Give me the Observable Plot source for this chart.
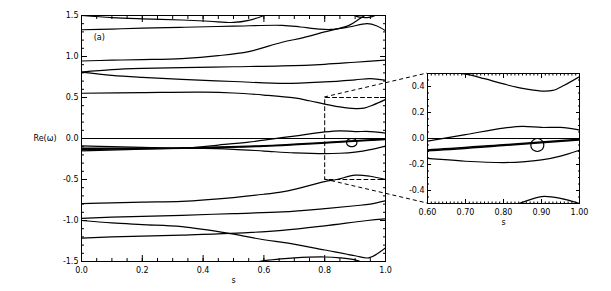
<!DOCTYPE html>
<html><head><meta charset="utf-8">
<script src="https://cdn.jsdelivr.net/npm/d3@7"></script>
<script src="https://cdn.jsdelivr.net/npm/@observablehq/plot@0.6"></script>
<style>
html,body{margin:0;padding:0;background:#fff;}
#wrap{position:relative;width:611px;height:291px;font-family:"DejaVu Sans",sans-serif;}
#wrap svg{position:absolute;overflow:visible;}
</style></head><body><div id="wrap"></div>
<script>
// ---- data: eigenfrequency branches Re(omega) vs s ----
const curveA  = [[0,1.50],[0.1,1.475],[0.2,1.46],[0.33,1.445],[0.42,1.43],[0.5,1.415],[0.55,1.44],[0.6,1.50],[0.62,1.53]];
const curveA2 = [[0.89,1.52],[0.905,1.49],[0.925,1.476],[0.945,1.477],[0.96,1.49],[0.972,1.52]];
const curveB  = [[0,1.326],[0.1,1.335],[0.2,1.345],[0.34,1.357],[0.5,1.37],[0.66,1.38],[0.72,1.36],[0.78,1.335],[0.82,1.33],[0.88,1.36],[0.94,1.40],[0.97,1.375],[1.0,1.315]];
const curveC  = [[0,0.945],[0.1,0.955],[0.2,0.962],[0.33,0.975],[0.45,1.01],[0.55,1.06],[0.66,1.174],[0.73,1.23],[0.8,1.30],[0.88,1.38],[0.915,1.46],[0.94,1.52]];
const curveD1 = [[0,0.81],[0.1,0.84],[0.2,0.855],[0.33,0.865],[0.5,0.875],[0.66,0.885],[0.8,0.905],[0.9,0.93],[1.0,0.955]];
const curveD2 = [[0,0.81],[0.1,0.77],[0.2,0.745],[0.33,0.72],[0.5,0.695],[0.67,0.672],[0.8,0.69],[0.9,0.715],[0.95,0.73],[1.0,0.71]];
const curveE  = [[0,0.552],[0.2,0.56],[0.4,0.565],[0.5,0.555],[0.6,0.53],[0.7,0.495],[0.75,0.46],[0.8,0.42],[0.85,0.385],[0.9,0.365],[0.93,0.37],[0.96,0.41],[1.0,0.475]];
const curveF  = [[0,0],[1,0]];
const curveG  = [[0,-0.09],[0.1,-0.10],[0.2,-0.108],[0.34,-0.115],[0.45,-0.08],[0.55,-0.045],[0.6,-0.02],[0.7,0.03],[0.8,0.08],[0.85,0.093],[0.9,0.085],[0.95,0.085],[1.0,0.065]];
const curveT1 = [[0,-0.12],[0.2,-0.118],[0.34,-0.115],[0.6,-0.088],[0.8,-0.048],[1.0,-0.006]];
const curveT2 = [[0,-0.135],[0.2,-0.125],[0.34,-0.118],[0.6,-0.094],[0.8,-0.054],[1.0,-0.012]];
const curveN  = [[0,-0.15],[0.15,-0.135],[0.3,-0.122],[0.4,-0.12],[0.5,-0.132],[0.6,-0.153],[0.7,-0.175],[0.8,-0.185],[0.85,-0.18],[0.9,-0.165],[0.95,-0.135],[1.0,-0.09]];
const loopP   = [[0.906,-0.05],[0.904,-0.025],[0.8975,-0.007],[0.889,0.0],[0.8805,-0.007],[0.874,-0.025],[0.872,-0.05],[0.874,-0.075],[0.8805,-0.093],[0.889,-0.1],[0.8975,-0.093],[0.904,-0.075]];
const curveI  = [[0,-0.795],[0.1,-0.785],[0.2,-0.775],[0.33,-0.766],[0.5,-0.72],[0.6,-0.68],[0.66,-0.65],[0.7,-0.62],[0.8,-0.525],[0.84,-0.50],[0.9,-0.447],[0.95,-0.46],[1.0,-0.50]];
const curveJ  = [[0,-0.975],[0.1,-0.96],[0.2,-0.95],[0.33,-0.937],[0.5,-0.915],[0.66,-0.895],[0.8,-0.855],[0.9,-0.82],[0.95,-0.80],[1.0,-0.76]];
const curveK  = [[0,-1.0],[0.1,-1.03],[0.2,-1.05],[0.33,-1.075],[0.49,-1.16],[0.6,-1.235],[0.68,-1.275],[0.8,-1.36],[0.9,-1.43],[0.945,-1.455],[1.0,-1.335]];
const curveL  = [[0,-1.215],[0.1,-1.20],[0.2,-1.19],[0.33,-1.178],[0.49,-1.158],[0.66,-1.12],[0.8,-1.065],[0.94,-1.0],[1.0,-0.98]];
const curveM  = [[0.56,-1.52],[0.6,-1.49],[0.65,-1.47],[0.7,-1.455],[0.8,-1.445],[0.85,-1.455],[0.9,-1.48],[0.93,-1.52]];

// axes / domains / ticks
const mainXDomain = [0, 1];
const mainYDomain = [-1.5, 1.5];
const insetXDomain = [0.6, 1.0];
const insetYDomain = [-0.5, 0.5];
const boxS = [0.8, 1.0];
const boxW = [-0.5, 0.5];
const mainXMajor = [0, 0.2, 0.4, 0.6, 0.8, 1.0];
const mainXMinor = d3.range(0, 1.0001, 0.05);
const mainYMajor = [-1.5, -1.0, -0.5, 0, 0.5, 1.0, 1.5];
const mainYMinor = d3.range(-1.5, 1.5001, 0.1);
const insetXMajor = [0.6, 0.7, 0.8, 0.9, 1.0];
const insetXMinor = d3.range(0.6, 1.0001, 0.01);
const insetYMajor = [-0.4, -0.2, 0, 0.2, 0.4];
const insetYMinor = d3.range(-0.5, 0.5001, 0.05);

// tables
const toRows = (list) => list.flatMap(([id, arr]) => arr.map(([s, w]) => ({id, s, w})));
const thinRows = toRows([["A",curveA],["A2",curveA2],["B",curveB],["C",curveC],["D1",curveD1],["D2",curveD2],["E",curveE],["G",curveG],["N",curveN],["I",curveI],["J",curveJ],["K",curveK],["L",curveL],["M",curveM]]);
const thickRows = toRows([["T1",curveT1],["T2",curveT2]]);
const zeroRows = toRows([["F",curveF]]);
const boxRows = [[boxS[1],boxW[1]],[boxS[0],boxW[1]],[boxS[0],boxW[0]],[boxS[1],boxW[0]]];

const FONT = "DejaVu Sans";
function curveMarks() {
  return [
    Plot.line(zeroRows, {x:"s", y:"w", z:"id", stroke:"#000", strokeWidth:1, clip:true}),
    Plot.line(thinRows, {x:"s", y:"w", z:"id", curve:"catmull-rom", stroke:"#000", strokeWidth:1.2, clip:true}),
    Plot.line(thickRows, {x:"s", y:"w", z:"id", curve:"catmull-rom", stroke:"#000", strokeWidth:1.5, clip:true}),
    Plot.line(loopP, {x:d=>d[0], y:d=>d[1], curve:"catmull-rom-closed", stroke:"#000", strokeWidth:1.2, clip:true})
  ];
}
function tickAxes(xMajor, xMinor, yMajor, yMinor, xFmt, yFmt, minorLen, majorLen, xMinorLen) {
  return [
    Plot.axisX(xMajor, {anchor:"bottom", tickSize:0, tickPadding:6, tickFormat:xFmt, label:null}),
    Plot.axisX(xMinor, {anchor:"bottom", tickSize:-xMinorLen, text:null, label:null}),
    Plot.axisX(xMajor, {anchor:"bottom", tickSize:-majorLen, text:null, label:null}),
    Plot.axisX(xMinor, {anchor:"top", tickSize:-xMinorLen, text:null, label:null}),
    Plot.axisX(xMajor, {anchor:"top", tickSize:-majorLen, text:null, label:null}),
    Plot.axisY(yMajor, {anchor:"left", tickSize:0, tickPadding:3, tickFormat:yFmt, label:null}),
    Plot.axisY(yMinor, {anchor:"left", tickSize:-minorLen, text:null, label:null}),
    Plot.axisY(yMajor, {anchor:"left", tickSize:-majorLen, text:null, label:null}),
    Plot.axisY(yMinor, {anchor:"right", tickSize:-minorLen, text:null, label:null}),
    Plot.axisY(yMajor, {anchor:"right", tickSize:-majorLen, text:null, label:null}),
    Plot.frame({stroke:"#000", strokeWidth:1})
  ];
}

const main = Plot.plot({
  width:611, height:291, marginLeft:81, marginRight:226, marginTop:15, marginBottom:30,
  style:{fontFamily:FONT, fontSize:"8px", color:"#000", background:"transparent"},
  x:{domain:mainXDomain}, y:{domain:mainYDomain},
  marks:[
    ...curveMarks(),
    Plot.line(boxRows, {x:d=>d[0], y:d=>d[1], stroke:"#000", strokeWidth:1, strokeDasharray:"4,3"}),
    ...tickAxes(mainXMajor, mainXMinor, mainYMajor, mainYMinor, d=>d.toFixed(1), d=>d.toFixed(1), 3, 6, 3),
    Plot.text(["Re(ω)"], {frameAnchor:"left", dx:-25, textAnchor:"end", fontSize:8}),
    Plot.text(["(a)"], {x:0.04, y:1.23, textAnchor:"start", fontSize:8}),
    Plot.text(["s"], {frameAnchor:"bottom", dy:21, fontSize:8})
  ]
});

const insetLeft = 387, insetTop = 63;
const inset = Plot.plot({
  width:202, height:175, marginLeft:40, marginRight:10, marginTop:10, marginBottom:35,
  style:{fontFamily:FONT, fontSize:"8px", color:"#000", background:"transparent"},
  x:{domain:insetXDomain}, y:{domain:insetYDomain},
  marks:[
    ...curveMarks(),
    ...tickAxes(insetXMajor, insetXMinor, insetYMajor, insetYMinor, d=>d.toFixed(2), d=>d.toFixed(1), 2, 4, 1.5),
    Plot.text(["s"], {frameAnchor:"bottom", dy:21, fontSize:8})
  ]
});

const wrap = document.getElementById("wrap");
main.style.left = "0px"; main.style.top = "0px";
wrap.appendChild(main);

// dashed connectors from the zoom box to the inset frame, computed from both plots' scales
const mx = main.scale("x"), my = main.scale("y");
const ix = inset.scale("x"), iy = inset.scale("y");
const over = d3.create("svg").attr("width", 611).attr("height", 291)
  .style("left", "0px").style("top", "0px");
const links = [
  [mx.apply(boxS[0]), my.apply(boxW[1]), insetLeft + ix.apply(insetXDomain[0]), insetTop + iy.apply(insetYDomain[1])],
  [mx.apply(boxS[0]), my.apply(boxW[0]), insetLeft + ix.apply(insetXDomain[0]), insetTop + iy.apply(insetYDomain[0])]
];
over.selectAll("line").data(links).join("line")
  .attr("x1", d=>d[0]).attr("y1", d=>d[1]).attr("x2", d=>d[2]).attr("y2", d=>d[3])
  .attr("stroke", "#000").attr("stroke-width", 1).attr("stroke-dasharray", "4,3");
wrap.appendChild(over.node());

inset.style.left = insetLeft + "px"; inset.style.top = insetTop + "px";
wrap.appendChild(inset);
</script></body></html>
